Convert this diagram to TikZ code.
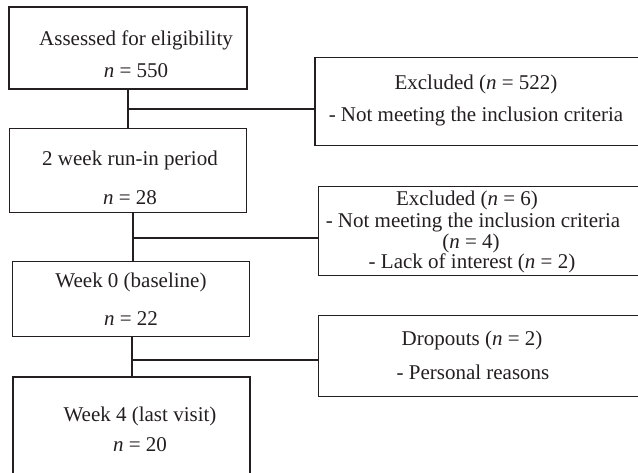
\documentclass[tikz,border=0pt]{standalone}
\usepackage{fontspec}
\setmainfont{Liberation Serif}
\definecolor{ink}{HTML}{231F20}
\begin{document}
\begin{tikzpicture}[x=1pt,y=-1pt,
  txt/.style={font=\fontsize{21}{22}\selectfont, inner sep=0pt, text height=0.7em, text depth=0.25em, text=ink, yshift=-3pt},
  thinbox/.style={draw=ink, line width=1.1pt, inner sep=0pt},
  thickbox/.style={draw=ink, line width=2.8pt, inner sep=0pt},
  conn/.style={draw=ink, line width=1.1pt}]
\useasboundingbox (0,0) rectangle (638,473);
\clip (0,0) rectangle (638,473);
% left column boxes
\node[thickbox, minimum width=238pt, minimum height=82pt] (b1) at (128,48) {};
\node[thinbox, minimum width=237pt, minimum height=84pt] (b2) at (128,170.5) {};
\node[thinbox, minimum width=237pt, minimum height=75pt] (b3) at (131,299) {};
\node[thickbox, minimum width=237pt, minimum height=124pt] (b4) at (131.5,439) {};
% right column boxes
\node[thinbox, minimum width=328pt, minimum height=88pt] (e1) at (479,101.5) {};
\node[thinbox, minimum width=325pt, minimum height=89pt] (e2) at (481,231) {};
\node[thinbox, minimum width=325pt, minimum height=81pt] (d1) at (481,356) {};
% texts
\node[txt] (t1a) at (136,40) {Assessed for eligibility};
\node[txt] (t1b) at (136,72) {\textit{n} = 550};
\node[txt] (t2a) at (130,160) {2 week run-in period};
\node[txt] (t2b) at (130,199) {\textit{n} = 28};
\node[txt] (t3a) at (131,282) {Week 0 (baseline)};
\node[txt] (t3b) at (131,320) {\textit{n} = 22};
\node[txt] (t4a) at (140,416) {Week 4 (last visit)};
\node[txt] (t4b) at (140,446) {\textit{n} = 20};
\node[txt] (e1a) at (476,84) {Excluded (\textit{n} = 522)};
\node[txt] (e1b) at (476,116) {- Not meeting the inclusion criteria};
\node[txt] (e2a) at (467,200) {Excluded (\textit{n} = 6)};
\node[txt] (e2b) at (473,222) {- Not meeting the inclusion criteria};
\node[txt] (e2c) at (471,243) {(\textit{n} = 4)};
\node[txt] (e2d) at (472,263) {- Lack of interest (\textit{n} = 2)};
\node[txt] (d1a) at (472,340) {Dropouts (\textit{n} = 2)};
\node[txt] (d1b) at (473,374) {- Personal reasons};
% connectors
\coordinate (j1) at (128,109);
\coordinate (j2) at (133,238);
\coordinate (j3) at (132,360);
\draw[conn] (b1.south) -- (b2.north);
\draw[conn] (j1) -- (j1 -| e1.west);
\draw[conn] (j2 |- b2.south) -- (j2 |- b3.north);
\draw[conn] (j2) -- (j2 -| e2.west);
\draw[conn] (j3 |- b3.south) -- (j3 |- b4.north);
\draw[conn] (j3) -- (j3 -| d1.west);
\end{tikzpicture}
\end{document}
